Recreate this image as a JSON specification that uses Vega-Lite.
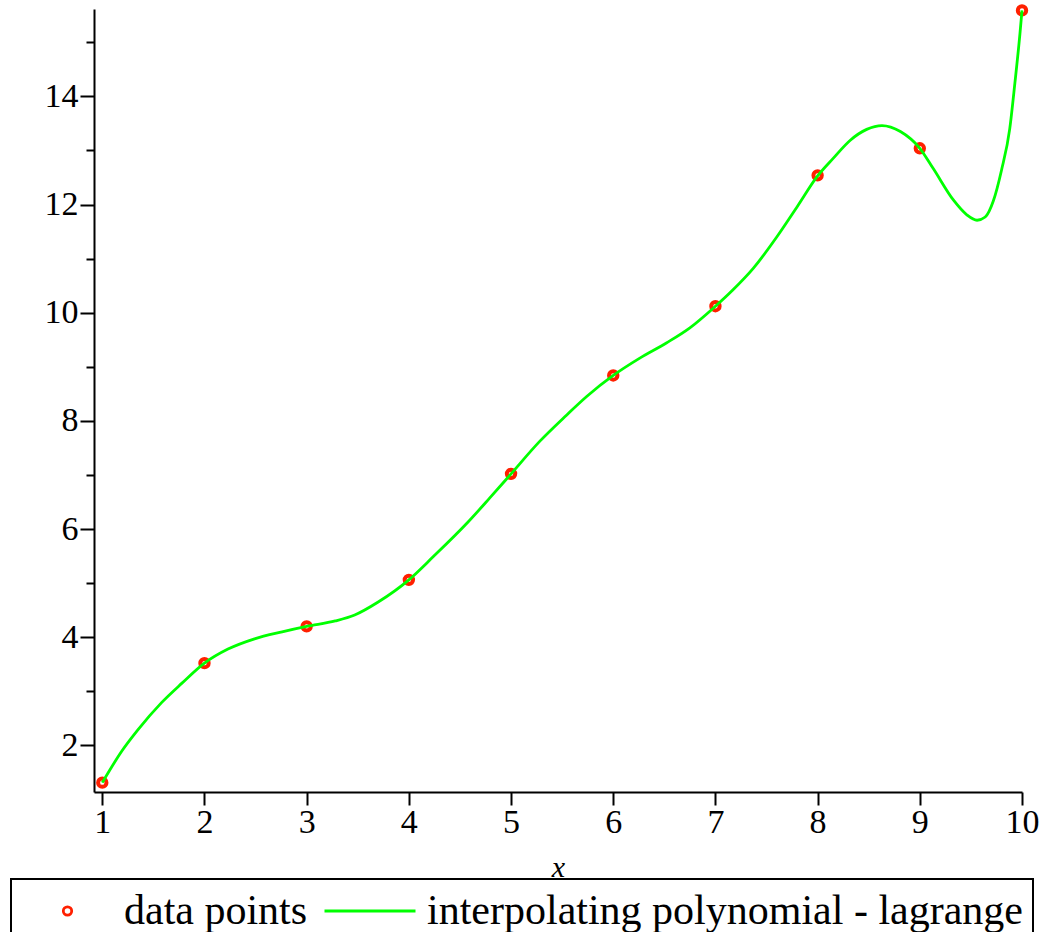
{
  "$schema": "https://vega.github.io/schema/vega-lite/v6.json",
  "width": 928,
  "height": 783,
  "autosize": {"type": "none"},
  "padding": {"left": 94, "top": 9, "right": 17, "bottom": 140},
  "background": "white",
  "config": {"view": {"stroke": null}, "legend": {"strokeWidth": 2}},
  "datasets": {
    "pts": [
      {"x": 1, "y": 1.31, "series": "data points"},
      {"x": 2, "y": 3.52, "series": "data points"},
      {"x": 3, "y": 4.20, "series": "data points"},
      {"x": 4, "y": 5.06, "series": "data points"},
      {"x": 5, "y": 7.02, "series": "data points"},
      {"x": 6, "y": 8.84, "series": "data points"},
      {"x": 7, "y": 10.12, "series": "data points"},
      {"x": 8, "y": 12.54, "series": "data points"},
      {"x": 9, "y": 13.04, "series": "data points"},
      {"x": 10, "y": 15.59, "series": "data points"}
    ],
    "curve": [
      {"x": 1.0, "y": 1.31, "series": "interpolating polynomial - lagrange"}, {"x": 1.19, "y": 1.89, "series": "interpolating polynomial - lagrange"},
      {"x": 1.35, "y": 2.29, "series": "interpolating polynomial - lagrange"}, {"x": 1.58, "y": 2.79, "series": "interpolating polynomial - lagrange"},
      {"x": 1.78, "y": 3.15, "series": "interpolating polynomial - lagrange"}, {"x": 2.0, "y": 3.52, "series": "interpolating polynomial - lagrange"},
      {"x": 2.23, "y": 3.78, "series": "interpolating polynomial - lagrange"}, {"x": 2.49, "y": 3.97, "series": "interpolating polynomial - lagrange"},
      {"x": 2.76, "y": 4.10, "series": "interpolating polynomial - lagrange"}, {"x": 3.0, "y": 4.20, "series": "interpolating polynomial - lagrange"},
      {"x": 3.28, "y": 4.30, "series": "interpolating polynomial - lagrange"}, {"x": 3.47, "y": 4.41, "series": "interpolating polynomial - lagrange"},
      {"x": 3.70, "y": 4.65, "series": "interpolating polynomial - lagrange"}, {"x": 4.0, "y": 5.06, "series": "interpolating polynomial - lagrange"},
      {"x": 4.24, "y": 5.49, "series": "interpolating polynomial - lagrange"}, {"x": 4.57, "y": 6.11, "series": "interpolating polynomial - lagrange"},
      {"x": 4.79, "y": 6.57, "series": "interpolating polynomial - lagrange"}, {"x": 5.0, "y": 7.02, "series": "interpolating polynomial - lagrange"},
      {"x": 5.28, "y": 7.62, "series": "interpolating polynomial - lagrange"}, {"x": 5.54, "y": 8.10, "series": "interpolating polynomial - lagrange"},
      {"x": 5.74, "y": 8.45, "series": "interpolating polynomial - lagrange"}, {"x": 6.0, "y": 8.84, "series": "interpolating polynomial - lagrange"},
      {"x": 6.26, "y": 9.16, "series": "interpolating polynomial - lagrange"}, {"x": 6.52, "y": 9.44, "series": "interpolating polynomial - lagrange"},
      {"x": 6.75, "y": 9.72, "series": "interpolating polynomial - lagrange"}, {"x": 7.0, "y": 10.12, "series": "interpolating polynomial - lagrange"},
      {"x": 7.17, "y": 10.42, "series": "interpolating polynomial - lagrange"}, {"x": 7.37, "y": 10.82, "series": "interpolating polynomial - lagrange"},
      {"x": 7.60, "y": 11.40, "series": "interpolating polynomial - lagrange"}, {"x": 7.80, "y": 11.96, "series": "interpolating polynomial - lagrange"},
      {"x": 8.0, "y": 12.53, "series": "interpolating polynomial - lagrange"}, {"x": 8.15, "y": 12.85, "series": "interpolating polynomial - lagrange"},
      {"x": 8.32, "y": 13.19, "series": "interpolating polynomial - lagrange"}, {"x": 8.48, "y": 13.39, "series": "interpolating polynomial - lagrange"},
      {"x": 8.63, "y": 13.46, "series": "interpolating polynomial - lagrange"}, {"x": 8.81, "y": 13.35, "series": "interpolating polynomial - lagrange"},
      {"x": 9.0, "y": 13.04, "series": "interpolating polynomial - lagrange"}, {"x": 9.13, "y": 12.67, "series": "interpolating polynomial - lagrange"},
      {"x": 9.33, "y": 12.08, "series": "interpolating polynomial - lagrange"}, {"x": 9.46, "y": 11.81, "series": "interpolating polynomial - lagrange"},
      {"x": 9.56, "y": 11.71, "series": "interpolating polynomial - lagrange"}, {"x": 9.64, "y": 11.77, "series": "interpolating polynomial - lagrange"},
      {"x": 9.72, "y": 12.07, "series": "interpolating polynomial - lagrange"}, {"x": 9.80, "y": 12.64, "series": "interpolating polynomial - lagrange"},
      {"x": 9.88, "y": 13.40, "series": "interpolating polynomial - lagrange"}, {"x": 9.93, "y": 14.24, "series": "interpolating polynomial - lagrange"},
      {"x": 9.98, "y": 15.16, "series": "interpolating polynomial - lagrange"}, {"x": 10.0, "y": 15.59, "series": "interpolating polynomial - lagrange"}
    ]
  },
  "encoding": {
    "x": {
      "field": "x", "type": "quantitative",
      "scale": {"domain": [0.919, 10], "nice": false, "zero": false},
      "axis": {
        "title": "x",
        "format": "d",
        "values": [1, 1.5, 2, 2.5, 3, 3.5, 4, 4.5, 5, 5.5, 6, 6.5, 7, 7.5, 8, 8.5, 9, 9.5, 10],
        "labelExpr": "datum.value % 1 === 0 ? datum.label : ''",
        "labelOverlap": false,
        "labelFlush": false,
        "grid": false,
        "domainColor": "black", "domainWidth": 2,
        "tickColor": "black", "tickWidth": 2,
        "tickSize": {"condition": {"test": "datum.value % 1 === 0", "value": 13}, "value": 7},
        "labelFont": "Liberation Serif", "labelFontSize": 34, "labelColor": "black",
        "labelPadding": 0,
        "titleFont": "Liberation Serif", "titleFontSize": 30, "titleFontStyle": "italic",
        "titleFontWeight": "normal", "titleColor": "black",
        "titleBaseline": "alphabetic", "titleY": 84
      }
    },
    "y": {
      "field": "y", "type": "quantitative",
      "scale": {"domain": [1.137, 15.616], "nice": false, "zero": false},
      "axis": {
        "title": null,
        "format": "d",
        "values": [2, 3, 4, 5, 6, 7, 8, 9, 10, 11, 12, 13, 14, 15],
        "labelExpr": "datum.value % 2 === 0 ? datum.label : ''",
        "labelOverlap": false,
        "labelFlush": false,
        "grid": false,
        "domainColor": "black", "domainWidth": 2,
        "tickColor": "black", "tickWidth": 2,
        "tickSize": {"condition": {"test": "datum.value % 2 === 0", "value": 14}, "value": 8},
        "labelFont": "Liberation Serif", "labelFontSize": 34, "labelColor": "black",
        "labelPadding": 2
      }
    },
    "color": {
      "field": "series", "type": "nominal",
      "scale": {"domain": ["data points", "interpolating polynomial - lagrange"], "range": ["#ff2000", "#00ff00"]},
      "legend": {
        "title": null,
        "orient": "none",
        "direction": "horizontal",
        "legendX": -83,
        "legendY": 870,
        "padding": 10,
        "strokeColor": "black",
        "fillColor": "white",
        "symbolStrokeWidth": 2.8,
        "symbolFillColor": "white",
        "symbolOffset": 0,
        "clipHeight": 44,
        "labelOffset": 10,
        "columnPadding": 15,
        "labelFont": "Liberation Serif",
        "labelFontSize": 42,
        "labelColor": "black",
        "labelLimit": 1000
      }
    }
  },
  "layer": [
    {
      "data": {"name": "pts"},
      "mark": {"type": "point", "filled": false, "fill": "white", "fillOpacity": 1, "strokeWidth": 4, "opacity": 1},
      "encoding": {
        "shape": {
          "field": "series", "type": "nominal",
          "scale": {"domain": ["data points", "interpolating polynomial - lagrange"], "range": ["M-0.093,0A0.093,0.093,0,1,0,0.093,0A0.093,0.093,0,1,0,-0.093,0Z", "stroke"]},
          "legend": {
            "title": null,
            "orient": "none",
            "direction": "horizontal",
            "legendX": -83,
            "legendY": 870,
            "padding": 10,
            "strokeColor": "black",
            "fillColor": "white",
            "symbolStrokeWidth": 2.8,
            "symbolFillColor": "white",
            "symbolOffset": 0,
            "clipHeight": 44,
            "labelOffset": 10,
            "columnPadding": 15,
            "labelFont": "Liberation Serif",
            "labelFontSize": 42,
            "labelColor": "black",
            "labelLimit": 1000
          }
        },
        "size": {
          "field": "series", "type": "nominal",
          "scale": {"type": "point", "padding": 0, "domain": ["data points", "interpolating polynomial - lagrange"], "range": [8136, 8281]},
          "legend": {
            "title": null,
            "orient": "none",
            "direction": "horizontal",
            "legendX": -83,
            "legendY": 870,
            "padding": 10,
            "strokeColor": "black",
            "fillColor": "white",
            "symbolStrokeWidth": 2.8,
            "symbolFillColor": "white",
            "symbolOffset": 0,
            "clipHeight": 44,
            "labelOffset": 10,
            "columnPadding": 15,
            "labelFont": "Liberation Serif",
            "labelFontSize": 42,
            "labelColor": "black",
            "labelLimit": 1000
          }
        }
      }
    },
    {
      "data": {"name": "curve"},
      "mark": {"type": "line", "interpolate": "monotone", "strokeWidth": 2.8}
    }
  ]
}
